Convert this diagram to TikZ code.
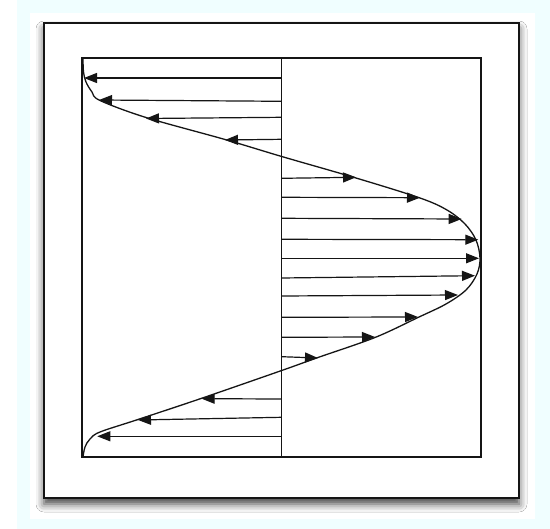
\documentclass[tikz,border=0pt]{standalone}
\usepackage{xcolor}
\usepackage{tikz}
\usetikzlibrary{arrows.meta,shadows.blur}
\definecolor{PageSky}{HTML}{F0FEFF}
\definecolor{PageInk}{HTML}{151515}

\begin{document}
\begin{tikzpicture}[
  x=1pt,y=-1pt,
  frame/.style={draw=PageInk,line width=1.2pt},
  sheet/.style={draw=PageInk,line width=1.5pt,fill=white,
    blur shadow={shadow xshift=0pt,shadow yshift=-6pt,
      shadow blur radius=8pt,shadow opacity=75}},
  profile/.style={draw=PageInk,line width=1.3pt,line join=round},
  vec/.style={-{Triangle[length=13pt,width=10pt]},draw=PageInk,line width=1.2pt}
]
\useasboundingbox (0,0) rectangle (550,529);
\fill[white] (0,0) rectangle (550,529);
\fill[PageSky] (17,0) rectangle (550,529);
\fill[white] (30,13) rectangle (535,519);
\draw[sheet] (44,23) rectangle (519,498);
\coordinate (nw) at (82,58);
\coordinate (se) at (481,457);
\coordinate (axtop) at (281.7,58);
\coordinate (axbot) at (281.7,457);
\draw[frame] (nw) rectangle (se);
\draw[frame] (axtop) -- (axbot);
\draw[profile] plot[smooth,tension=0.55] coordinates {
  (83,58) (83.5,72) (86,82) (92,92) (100,100.5) (146,117.5) (225,139.5)
  (281.7,156.5) (356,178) (420,198) (447,210) (465,224) (476,240)
  (480,258) (477,274) (466,290) (446,304) (418,317.5) (375,337.5)
  (318,357.5) (281.7,370.5) (201,398.5) (138,419.5) (100,432) (90,439)
  (85,447) (83,457)};
\foreach \ya/\xb/\yb [count=\i] in {78/84/78, 101.3/99/100, 117.3/146/118.5,
    139.3/225/140, 178.3/356/177.3, 197.3/420/197.7, 218.3/461.7/219,
    239.3/478.3/239.7, 258.3/479/258.3, 278/475/275.7, 296/458/295,
    317.3/418/317, 337.3/375/337, 356.7/318/358, 399/201.7/398.7,
    417.3/138/420, 436.3/97.3/436.3} {
  \coordinate (s\i) at (281.7,\ya);
  \coordinate (t\i) at (\xb,\yb);
  \draw[vec] (s\i) -- (t\i);
}
\end{tikzpicture}
\end{document}
